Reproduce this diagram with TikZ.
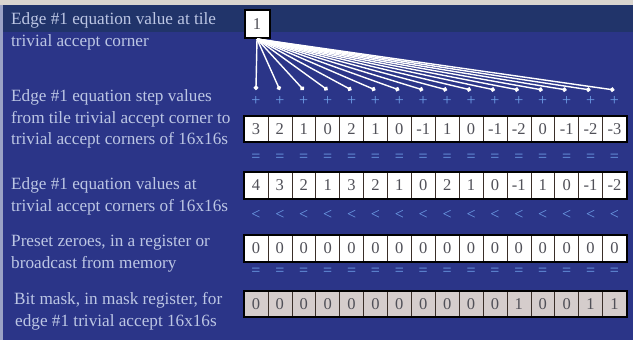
\documentclass[tikz,border=0pt]{standalone}
\usepackage{fontspec}
\setmainfont{Liberation Serif}
\usetikzlibrary{arrows.meta}
\definecolor{topgray}{HTML}{D9D5CF}
\definecolor{navy}{HTML}{21346A}
\definecolor{mainblue}{HTML}{2B3588}
\definecolor{edgegray}{HTML}{9AA2C6}
\definecolor{lbltext}{HTML}{BCC6E4}
\definecolor{symcol}{HTML}{6F9FE8}
\definecolor{numcol}{HTML}{505058}
\definecolor{maskfill}{HTML}{D5CDCC}
\definecolor{cellline}{HTML}{3A2E28}
\tikzset{
  lbl/.style={anchor=base west, inner sep=0pt, text=lbltext, font=\fontsize{17.2}{20}\selectfont},
  cellbox/.style={draw=cellline, line width=0.6pt, fill=white, minimum width=23.9pt, minimum height=26pt, inner sep=0pt, text=numcol, font=\fontsize{16.5}{18}\selectfont},
  maskbox/.style={cellbox, fill=maskfill},
  rowframe/.style={draw=black, line width=1.8pt},
  symb/.style={text=symcol, inner sep=0pt, font=\fontsize{16}{18}\selectfont},
  fanline/.style={draw=white, line width=1.4pt, -{Circle[length=4.5pt]}}
}
\begin{document}
\begin{tikzpicture}[x=1pt,y=-1pt]
\useasboundingbox (0,0) rectangle (633,340);
\fill[topgray] (0,0) rectangle (633,4.5);
\fill[navy] (0,4.5) rectangle (633,32);
\fill[mainblue] (0,32) rectangle (633,340);
\fill[edgegray] (0,4.5) rectangle (2.5,340);

% labels
\node[lbl] (l1a) at (11,24) {Edge \#1 equation value at tile};
\node[lbl] (l1b) at (11,46) {trivial accept corner};
\node[lbl] (l2a) at (11,101) {Edge \#1 equation step values};
\node[lbl] (l2b) at (11,123) {from tile trivial accept corner to};
\node[lbl] (l2c) at (11,144) {trivial accept corners of 16x16s};
\node[lbl] (l3a) at (11,189) {Edge \#1 equation values at};
\node[lbl] (l3b) at (11,211) {trivial accept corners of 16x16s};
\node[lbl] (l4a) at (11,246) {Preset zeroes, in a register or};
\node[lbl] (l4b) at (11,268) {broadcast from memory};
\node[lbl] (l5a) at (14,304) {Bit mask, in mask register, for};
\node[lbl] (l5b) at (15,326) {edge \#1 trivial accept 16x16s};

% value at tile corner
\node[cellbox, minimum width=25pt, minimum height=28pt, line width=2pt, draw=black] (one) at (257,24) {1};

% rows
\foreach \v [count=\i] in {3,2,1,0,2,1,0,-1,1,0,-1,-2,0,-1,-2,-3}{
  \pgfmathsetmacro{\cx}{244+23.9*(\i-0.5)}
  \node[cellbox] (s\i) at (\cx,129) {\v};
  \coordinate (t\i) at (\cx,90);
  \node[symb] (p\i) at (\cx,101) {+};
  \node[symb] (e\i) at (\cx,158) {=};
  \node[symb] (q\i) at (\cx,215) {<};
  \node[symb] (f\i) at (\cx,272) {=};
  \draw[fanline] (one.south) -- (t\i);
}
\foreach \v [count=\i] in {4,3,2,1,3,2,1,0,2,1,0,-1,1,0,-1,-2}{
  \pgfmathsetmacro{\cx}{244+23.9*(\i-0.5)}
  \node[cellbox] (v\i) at (\cx,185.5) {\v};
}
\foreach \v [count=\i] in {0,0,0,0,0,0,0,0,0,0,0,0,0,0,0,0}{
  \pgfmathsetmacro{\cx}{244+23.9*(\i-0.5)}
  \node[cellbox] (z\i) at (\cx,248.5) {\v};
}
\foreach \v [count=\i] in {0,0,0,0,0,0,0,0,0,0,0,1,0,0,1,1}{
  \pgfmathsetmacro{\cx}{244+23.9*(\i-0.5)}
  \node[maskbox] (m\i) at (\cx,304) {\v};
}
\draw[rowframe] (s1.north west) rectangle (s16.south east);
\draw[rowframe] (v1.north west) rectangle (v16.south east);
\draw[rowframe] (z1.north west) rectangle (z16.south east);
\draw[rowframe] (m1.north west) rectangle (m16.south east);
\end{tikzpicture}
\end{document}
